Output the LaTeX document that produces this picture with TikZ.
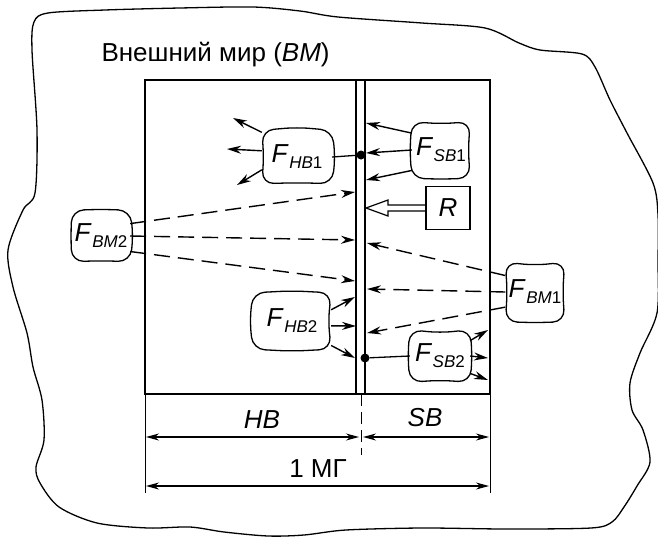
\documentclass[tikz,border=0pt]{standalone}
\usepackage{fontspec}
\setmainfont{Liberation Sans}
\usetikzlibrary{arrows.meta,calc}

\newcommand{\fsz}{\fontsize{26}{30}\selectfont}
\newcommand{\Fsub}[1]{\textit{F}\kern0.5pt\raisebox{-6pt}{\fontsize{17}{17}\selectfont #1}}
% wavy outline round a node: #1 node, #2 top, #3 right, #4 bottom, #5 left dent
\newcommand{\fblob}[5]{%
  \draw[blob] ($(#1.north)+(0,#2)$) -- (#1.north east) -- ($(#1.east)+(#3,0)$)
    -- (#1.south east) -- ($(#1.south)+(0,#4)$) -- (#1.south west)
    -- ($(#1.west)+(#5,0)$) -- (#1.north west) -- cycle;}

\tikzset{
  frame/.style={line width=1.8pt},
  wall/.style={line width=1.3pt},
  blob/.style={line width=1.3pt,rounded corners=12pt},
  world/.style={line width=1.3pt},
  arr/.style={line width=1.4pt,-{Stealth[length=14pt,width=8pt]}},
  darr/.style={arr,dash pattern=on 16pt off 8pt},
  dim/.style={line width=1.1pt,{Stealth[length=13pt,width=7pt]}-{Stealth[length=13pt,width=7pt]}},
  fnode/.style={inner sep=0pt,font=\fsz},
  lbl/.style={font=\fsz},
  dot/.style={circle,fill,inner sep=0pt,minimum size=9pt}
}

\begin{document}
\begin{tikzpicture}[x=1pt,y=-1pt]
\useasboundingbox (0,0) rectangle (658,538);

% outer world
\draw[world] plot[smooth cycle,tension=0.5] coordinates {
  (34,22) (48,13) (105,10) (180,8) (253,7) (300,11) (338,17) (422,23)
  (485,28) (519,43) (540,50) (582,54) (595,67) (610,100) (627,133)
  (653,183) (658,215) (658,260) (657,313) (640,353) (630,383) (632,410)
  (643,430) (650,462) (637,486) (624,507) (612,522) (591,528) (506,529)
  (422,528) (346,530) (304,535) (268,536) (224,532) (190,527) (148,528)
  (97,523) (59,507) (40,483) (36,467) (44,440) (42,400) (33,367)
  (27,333) (13,287) (8,250) (23,210) (35,193) (37,130) (32,50)};
\node[lbl,anchor=base west] (title) at (98,61) {Внешний мир (\textit{ВМ})};

% system and wall
\coordinate (tl) at (145,80);
\coordinate (br) at (490,394);
\draw[frame] (tl) rectangle (br);
\draw[wall] (356,80) -- (356,394) (365,80) -- (365,394);

% F nodes
\node[fnode,minimum width=70pt,minimum height=53pt] (hb1) at (297,157) {\Fsub{\textit{HB}1}};
\node[fnode,minimum width=58pt,minimum height=56pt] (sb1) at (441,150) {\Fsub{\textit{SB}1}};
\node[fnode,minimum width=58pt,minimum height=51pt] (bm2) at (101,236) {\Fsub{\textit{ВМ}2}};
\node[fnode,minimum width=59pt,minimum height=59pt] (bm1) at (535,292) {\Fsub{\textit{ВМ}1}};
\node[fnode,minimum width=78pt,minimum height=56pt] (hb2) at (292,321) {\Fsub{\textit{HB}2}};
\node[fnode,minimum width=60pt,minimum height=52pt] (sb2) at (440,356) {\Fsub{\textit{SB}2}};
\node[lbl,draw,line width=1.1pt,minimum width=44pt,minimum height=43pt,inner sep=0pt] (r) at (448,208) {\textit{R}};
\fblob{hb1}{-3}{3}{-1}{2}
\fblob{sb1}{2}{-2}{1}{-2}
\fblob{bm2}{-1}{3}{-1}{-1}
\fblob{bm1}{3}{-2}{1}{2}
\fblob{hb2}{-2}{-3}{2}{-3}
\fblob{sb2}{3}{2}{-2}{-2}

% dots on the wall
\node[dot] (dtop) at (361,155) {};
\node[dot] (dbot) at (365,358) {};

% free ends
\foreach \n/\x/\y in {a1/233/118, a2/227/149, a3/237/185,
    s1/366/123, s2/366/153, s3/366/180,
    m1/355/192, m2/355/240, m3/355/281,
    k1/367/243, k2/367/289, k3/367/333,
    h1/355/297, h2/356/326, h3/355/358,
    t1/488/330, t2/488/358, t3/488/380, wr/366/208}
  \coordinate (\n) at (\x,\y);

\draw[line width=1.3pt] (hb1.east) -- (dtop);
\draw[line width=1.3pt] (dbot) -- (sb2.west);
\draw[arr] (hb1.145) -- (a1);
\draw[arr] (hb1.170) -- (a2);
\draw[arr] (hb1.200) -- (a3);
\draw[arr] (sb1.150) -- (s1);
\draw[arr] (sb1.west) -- (s2);
\draw[arr] (sb1.215) -- (s3);
\draw[darr] (bm2.23) -- (m1);
\draw[darr] (bm2.east) -- (m2);
\draw[darr] (bm2.332) -- (m3);
\draw[darr] (bm1.151) -- (k1);
\draw[darr] (bm1.west) -- (k2);
\draw[darr] (bm1.207) -- (k3);
\draw[arr] (hb2.16) -- (h1);
\draw[arr] (hb2.353) -- (h2);
\draw[arr] (hb2.328) -- (h3);
\draw[arr] (sb2.27) -- (t1);
\draw[arr] (sb2.east) -- (t2);
\draw[arr] (sb2.330) -- (t3);

% hollow arrow from R
\draw[line width=1.2pt] (wr) -- ++(22,-8) -- ++(0,5) -- ++(38,0) -- ++(0,6)
  -- ++(-38,0) -- ++(0,5) -- cycle;

% dimensions
\draw[line width=1pt] (145,394) -- (145,493) (490,394) -- (490,493);
\draw[line width=1pt,dash pattern=on 12pt off 6pt] (361,394) -- (361,455);
\coordinate (d1) at (146,437);
\coordinate (d2) at (359,437);
\coordinate (d3) at (363,437);
\coordinate (d4) at (489,437);
\coordinate (d5) at (146,486);
\coordinate (d6) at (489,486);
\draw[dim] (d1) -- (d2);
\draw[dim] (d3) -- (d4);
\draw[dim] (d5) -- (d6);
\node[lbl] (hb) at (262,420) {\textit{HB}};
\node[lbl] (sb) at (425,418) {\textit{SB}};
\node[lbl] (mg) at (318,469) {1 МГ};
\end{tikzpicture}
\end{document}
